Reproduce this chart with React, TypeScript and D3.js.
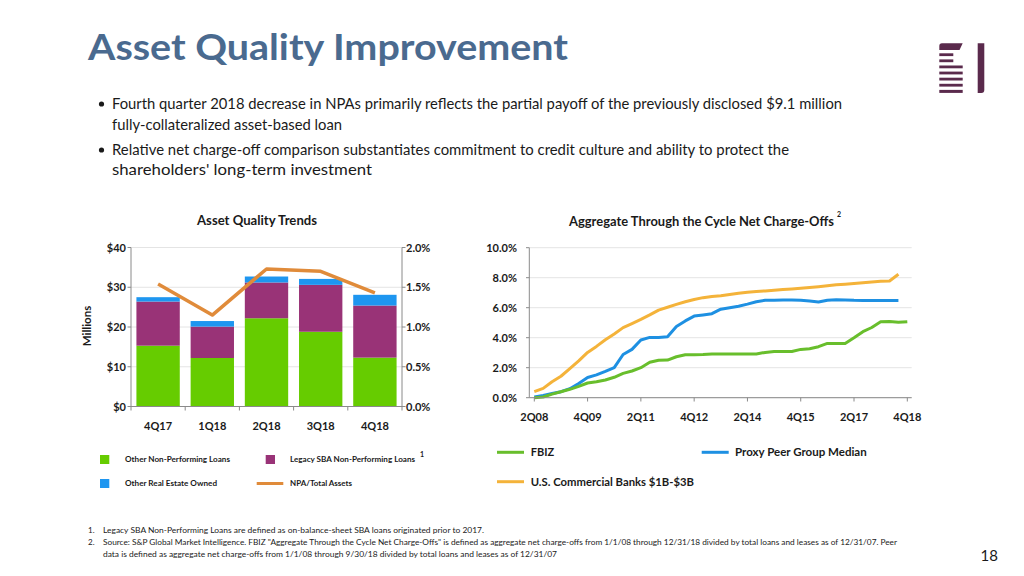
import React from 'react';
import * as d3 from 'd3';

// ---------- Data ----------
const npaQuarters = ['4Q17', '1Q18', '2Q18', '3Q18', '4Q18'];
const otherNPL = [15.3, 12.2, 22.2, 18.8, 12.3];
const legacySBA = [11.1, 7.9, 9.0, 11.8, 13.1];
const otherREO = [1.1, 1.4, 1.5, 1.5, 2.7];
const npaToAssets = [1.54, 1.15, 1.73, 1.70, 1.43];
const leftTicks = [0, 10, 20, 30, 40];
const rightTicks = [0, 0.5, 1.0, 1.5, 2.0];

const ncoTickLabels = ['2Q08', '4Q09', '2Q11', '4Q12', '2Q14', '4Q15', '2Q17', '4Q18'];
const ncoYTicks = [0, 2, 4, 6, 8, 10];
const fbiz = [0.0, 0.05, 0.24, 0.40, 0.56, 0.76, 0.98, 1.06, 1.18, 1.36, 1.62, 1.78, 2.0, 2.36, 2.50, 2.51, 2.73, 2.86, 2.87, 2.88, 2.92, 2.92, 2.92, 2.92, 2.92, 2.92, 3.02, 3.08, 3.08, 3.08, 3.22, 3.26, 3.40, 3.62, 3.62, 3.62, 4.00, 4.40, 4.68, 5.06, 5.08, 5.03, 5.07];
const peerMedian = [0.05, 0.15, 0.28, 0.40, 0.60, 0.95, 1.35, 1.52, 1.75, 2.00, 2.88, 3.22, 3.85, 4.02, 4.02, 4.06, 4.75, 5.12, 5.44, 5.52, 5.60, 5.90, 6.00, 6.10, 6.24, 6.40, 6.50, 6.50, 6.52, 6.52, 6.50, 6.45, 6.38, 6.50, 6.53, 6.52, 6.49, 6.48, 6.48, 6.48, 6.48, 6.48];
const usBanks = [0.40, 0.62, 1.06, 1.43, 1.94, 2.45, 3.02, 3.42, 3.86, 4.25, 4.67, 4.94, 5.22, 5.52, 5.84, 6.03, 6.22, 6.40, 6.55, 6.67, 6.75, 6.80, 6.88, 6.97, 7.03, 7.08, 7.12, 7.16, 7.21, 7.25, 7.30, 7.35, 7.40, 7.46, 7.53, 7.57, 7.61, 7.66, 7.72, 7.76, 7.78, 8.23];

const quarters: string[] = [];
for (let yr = 8; yr <= 18; yr++) {
  for (let q = 1; q <= 4; q++) {
    if (yr === 8 && q === 1) continue;
    quarters.push(`${q}Q${String(yr).padStart(2, '0')}`);
  }
}

const FONT = 'Lato, "Open Sans", sans-serif';
const C = {
  title: '#4A6A8F',
  text: '#1A1A1A',
  grid: '#E4E4E4',
  axis: '#8A8A8A',
  green: '#66CC00',
  purple: '#993377',
  blue: '#1E96F0',
  npa: '#E08B3A',
  lGreen: '#68BE2C',
  lBlue: '#1E90E2',
  lOrange: '#F4B33A',
  logo: '#5A2A4C',
};

export default function App() {
  // Left chart
  const xB = d3.scaleBand<string>().domain(npaQuarters).range([131, 402]).paddingInner(0.2).paddingOuter(0.1);
  const yL = d3.scaleLinear().domain([0, 40]).range([406.5, 247.5]);
  const yR = d3.scaleLinear().domain([0, 2]).range([406.5, 247.5]);
  const rows = npaQuarters.map((q, i) => ({ q, other: otherNPL[i], legacy: legacySBA[i], oreo: otherREO[i] }));
  const stacked = d3.stack<any>().keys(['other', 'legacy', 'oreo'])(rows);
  const stackColors = [C.green, C.purple, C.blue];
  const npaLine = d3.line<number>().x((_, i) => (xB(npaQuarters[i]) as number) + xB.bandwidth() / 2).y((d) => yR(d));
  const step = xB.step();

  // Right chart
  const xQ = d3.scalePoint<string>().domain(quarters).range([534.3, 907.3]);
  const yQ = d3.scaleLinear().domain([0, 10]).range([397.7, 247.7]);
  const qLine = d3.line<number>().x((_, i) => xQ(quarters[i]) as number).y((d) => yQ(d));

  return (
    <svg width={1024} height={576} style={{ position: 'absolute', left: 0, top: 0, background: '#fff' }} fontFamily={FONT}>
      <rect x={0} y={0} width={1024} height={576} fill="#fff" />
      {/* Title */}
      <text x={88} y={59.5} fontSize={36} fontWeight={700} fill={C.title} textLength={480} lengthAdjust="spacingAndGlyphs">Asset Quality Improvement</text>

      {/* Logo */}
      <g fill={C.logo}>
        <path d="M939.3,50 L939.3,46 Q939.3,43.3 942,43.3 L962.7,43.3 L959.5,50 Z" />
        <rect x={939.3} y={53.3} width={14} height={2.8} />
        <rect x={939.3} y={59.4} width={14} height={2.8} />
        <rect x={939.3} y={65.5} width={23.4} height={2.8} />
        <rect x={939.3} y={71.6} width={23.4} height={2.8} />
        <rect x={939.3} y={77.7} width={23.4} height={2.8} />
        <rect x={939.3} y={83.8} width={23.4} height={2.8} />
        <rect x={939.3} y={89.9} width={23.4} height={3} />
        <path d="M977.7,43.3 L984.3,43.3 L984.3,90 Q984.3,93 981.3,93 L977.7,93 Z" />
      </g>

      {/* Bullets */}
      <g fontSize={15} fill={C.text}>
        <circle cx={101.5} cy={104} r={2.6} fill={C.text} />
        <text x={112} y={109} textLength={730} lengthAdjust="spacingAndGlyphs">Fourth quarter 2018 decrease in NPAs primarily reflects the partial payoff of the previously disclosed $9.1 million</text>
        <text x={112} y={129.5} textLength={230} lengthAdjust="spacingAndGlyphs">fully-collateralized asset-based loan</text>
        <circle cx={101.5} cy={150} r={2.6} fill={C.text} />
        <text x={112} y={155} textLength={677} lengthAdjust="spacingAndGlyphs">Relative net charge-off comparison substantiates commitment to credit culture and ability to protect the</text>
        <text x={112} y={175} textLength={260} lengthAdjust="spacingAndGlyphs">shareholders' long-term investment</text>
      </g>

      {/* ===== Left chart ===== */}
      <text x={257} y={225} fontSize={12.5} fontWeight={700} textAnchor="middle" fill={C.text} textLength={120} lengthAdjust="spacingAndGlyphs">Asset Quality Trends</text>
      {leftTicks.map((t) => (
        <line key={'g' + t} x1={131} x2={402} y1={yL(t)} y2={yL(t)} stroke={C.grid} strokeWidth={1} />
      ))}
      {stacked.map((layer, li) => (
        <g key={li} fill={stackColors[li]}>
          {layer.map((d: any, i: number) => (
            <rect key={i} x={xB(npaQuarters[i])} y={yL(d[1])} width={xB.bandwidth()} height={yL(d[0]) - yL(d[1])} />
          ))}
        </g>
      ))}
      <path d={npaLine(npaToAssets) || ''} fill="none" stroke={C.npa} strokeWidth={3.5} strokeLinejoin="round" />
      {/* axes */}
      <line x1={131} x2={131} y1={247.5} y2={406.5} stroke={C.axis} />
      <line x1={402} x2={402} y1={247.5} y2={406.5} stroke={C.axis} />
      <line x1={131} x2={402} y1={406.5} y2={406.5} stroke={C.axis} />
      {leftTicks.map((t) => (
        <g key={'lt' + t}>
          <line x1={127.5} x2={131} y1={yL(t)} y2={yL(t)} stroke={C.axis} />
          <text x={126} y={yL(t) + 4} fontSize={11} fontWeight={700} textAnchor="end" fill={C.text}>{`$${t}`}</text>
        </g>
      ))}
      {rightTicks.map((t) => (
        <g key={'rt' + t}>
          <line x1={402} x2={405.5} y1={yR(t)} y2={yR(t)} stroke={C.axis} />
          <text x={406} y={yR(t) + 4} fontSize={11} fontWeight={700} fill={C.text}>{`${t.toFixed(1)}%`}</text>
        </g>
      ))}
      {npaQuarters.map((q, i) => (
        <g key={'xt' + q}>
          <line x1={131 + step * i} x2={131 + step * i} y1={406.5} y2={410.5} stroke={C.axis} />
          <text x={(xB(q) as number) + xB.bandwidth() / 2} y={430} fontSize={11} fontWeight={700} textAnchor="middle" fill={C.text}>{q}</text>
        </g>
      ))}
      <line x1={402} x2={402} y1={406.5} y2={410.5} stroke={C.axis} />
      <text transform="translate(91,326) rotate(-90)" fontSize={11.5} fontWeight={700} textAnchor="middle" fill={C.text}>Millions</text>

      {/* Left legend */}
      <g fontSize={8} fontWeight={700} fill={C.text}>
        <rect x={100} y={455} width={9.3} height={9} fill={C.green} />
        <text x={125} y={462} textLength={105} lengthAdjust="spacingAndGlyphs">Other Non-Performing Loans</text>
        <rect x={265.7} y={455} width={9.3} height={9} fill={C.purple} />
        <text x={290} y={462} textLength={125} lengthAdjust="spacingAndGlyphs">Legacy SBA Non-Performing Loans</text>
        <text x={420} y={457} fontSize={7}>1</text>
        <rect x={100} y={479} width={9.3} height={9} fill={C.blue} />
        <text x={125} y={486} textLength={92} lengthAdjust="spacingAndGlyphs">Other Real Estate Owned</text>
        <line x1={256.7} x2={283.3} y1={483.5} y2={483.5} stroke={C.npa} strokeWidth={3} />
        <text x={290} y={486} textLength={62} lengthAdjust="spacingAndGlyphs">NPA/Total Assets</text>
      </g>

      {/* ===== Right chart ===== */}
      <text x={701.5} y={225.5} fontSize={12.5} fontWeight={700} textAnchor="middle" fill={C.text} textLength={265} lengthAdjust="spacingAndGlyphs">Aggregate Through the Cycle Net Charge-Offs</text>
      <text x={837} y={217} fontSize={7} fontWeight={700} fill={C.text}>2</text>
      {ncoYTicks.map((t) => (
        <line key={'rg' + t} x1={529.3} x2={911.7} y1={yQ(t)} y2={yQ(t)} stroke={C.grid} />
      ))}
      <path d={qLine(usBanks) || ''} fill="none" stroke={C.lOrange} strokeWidth={3} strokeLinejoin="round" />
      <path d={qLine(peerMedian) || ''} fill="none" stroke={C.lBlue} strokeWidth={3} strokeLinejoin="round" />
      <path d={qLine(fbiz) || ''} fill="none" stroke={C.lGreen} strokeWidth={3} strokeLinejoin="round" />
      <line x1={529.3} x2={529.3} y1={247.7} y2={397.7} stroke={C.axis} />
      <line x1={529.3} x2={911.7} y1={397.7} y2={397.7} stroke={C.axis} />
      {ncoYTicks.map((t) => (
        <g key={'ry' + t}>
          <line x1={526} x2={529.3} y1={yQ(t)} y2={yQ(t)} stroke={C.axis} />
          <text x={517} y={yQ(t) + 4} fontSize={11} fontWeight={700} textAnchor="end" fill={C.text}>{`${t.toFixed(1)}%`}</text>
        </g>
      ))}
      {ncoTickLabels.map((q) => (
        <g key={'rx' + q}>
          <line x1={xQ(q) as number} x2={xQ(q) as number} y1={397.7} y2={401.5} stroke={C.axis} />
          <text x={xQ(q) as number} y={421} fontSize={11} fontWeight={700} textAnchor="middle" fill={C.text}>{q}</text>
        </g>
      ))}

      {/* Right legend */}
      <g fontSize={11} fontWeight={700} fill={C.text}>
        <line x1={497} x2={524} y1={452.3} y2={452.3} stroke={C.lGreen} strokeWidth={3} />
        <text x={530.7} y={456}>FBIZ</text>
        <line x1={701.7} x2={728.7} y1={452.3} y2={452.3} stroke={C.lBlue} strokeWidth={3} />
        <text x={735} y={456} textLength={131.7} lengthAdjust="spacingAndGlyphs">Proxy Peer Group Median</text>
        <line x1={497} x2={524} y1={481.7} y2={481.7} stroke={C.lOrange} strokeWidth={3} />
        <text x={530.7} y={485.5} textLength={163.3} lengthAdjust="spacingAndGlyphs">U.S. Commercial Banks $1B-$3B</text>
      </g>

      {/* Footnotes */}
      <g fontSize={8} fill={C.text}>
        <text x={88} y={533}>1.</text>
        <text x={103} y={533} textLength={381} lengthAdjust="spacingAndGlyphs">Legacy SBA Non-Performing Loans are defined as on-balance-sheet SBA loans originated prior to 2017.</text>
        <text x={88} y={545}>2.</text>
        <text x={103} y={545} textLength={794} lengthAdjust="spacingAndGlyphs">Source: S&amp;P Global Market Intelligence. FBIZ "Aggregate Through the Cycle Net Charge-Offs" is defined as aggregate net charge-offs from 1/1/08 through 12/31/18 divided by total loans and leases as of 12/31/07. Peer</text>
        <text x={103} y={557} textLength={454} lengthAdjust="spacingAndGlyphs">data is defined as aggregate net charge-offs from 1/1/08 through 9/30/18 divided by total loans and leases as of 12/31/07</text>
      </g>
      <text x={998} y={561} fontSize={15} textAnchor="end" fill={C.text}>18</text>
    </svg>
  );
}
